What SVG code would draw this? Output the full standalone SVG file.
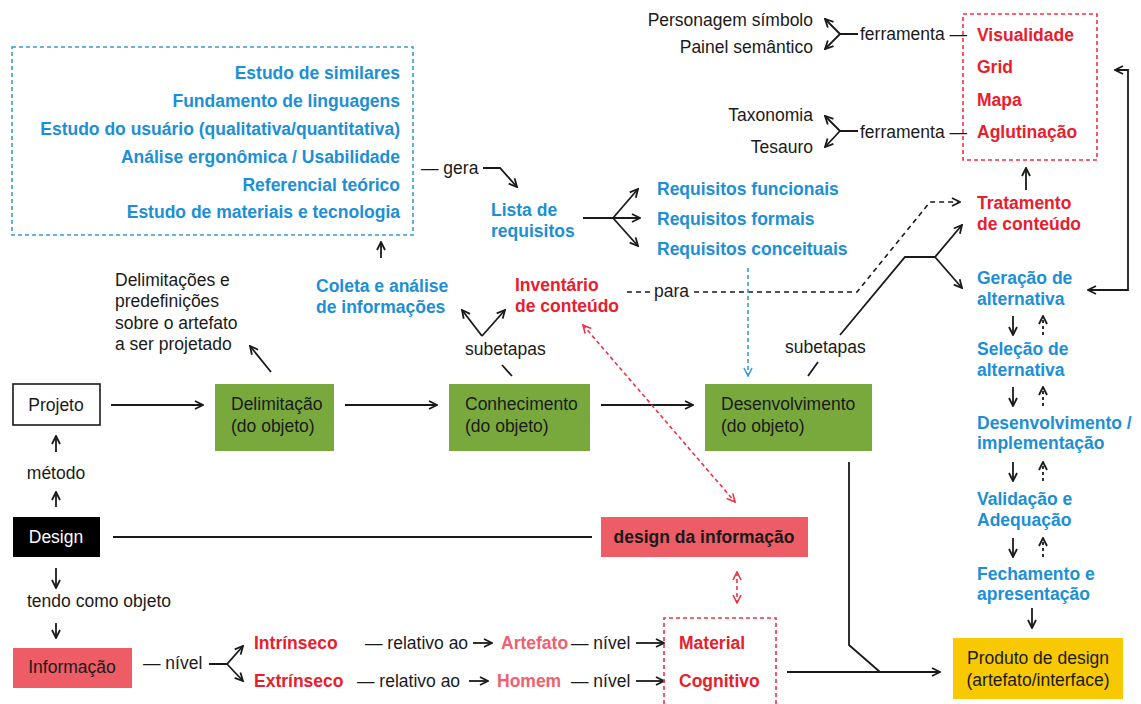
<svg xmlns="http://www.w3.org/2000/svg" width="1141" height="704" viewBox="0 0 1141 704">
<defs>
<style>
text{font-family:"Liberation Sans",Arial,sans-serif;font-size:17.5px;fill:#1a1a1a}
.b{font-weight:bold}
.blue{fill:#1c8fd6;font-weight:bold}
.red{fill:#e8202d;font-weight:bold}
.pink{fill:#f0606e;font-weight:bold}
.w{fill:#ffffff}
.mid{text-anchor:middle}
.end{text-anchor:end}
.ln{fill:none;stroke:#1a1a1a;stroke-width:1.8}
.dk{fill:none;stroke:#1a1a1a;stroke-width:1.6;stroke-dasharray:5 4}
.db{fill:none;stroke:#3a9ad8;stroke-width:1.6;stroke-dasharray:4 3}
.dr{fill:none;stroke:#ee3344;stroke-width:1.6;stroke-dasharray:4 3}
.dt{fill:none;stroke:#1a1a1a;stroke-width:1.8;stroke-dasharray:3 3}
.green{fill:#79a93d}
</style>
<marker id="ah" viewBox="0 0 10 10" refX="9" refY="5" markerWidth="10" markerHeight="10" markerUnits="userSpaceOnUse" orient="auto-start-reverse"><path d="M1,1 L9,5 L1,9" fill="none" stroke="#1a1a1a" stroke-width="1.8"/></marker>
<marker id="ahb" viewBox="0 0 10 10" refX="9" refY="5" markerWidth="10" markerHeight="10" markerUnits="userSpaceOnUse" orient="auto-start-reverse"><path d="M1,1 L9,5 L1,9" fill="none" stroke="#3a9ad8" stroke-width="1.6"/></marker>
<marker id="ahr" viewBox="0 0 10 10" refX="9" refY="5" markerWidth="10" markerHeight="10" markerUnits="userSpaceOnUse" orient="auto-start-reverse"><path d="M1,1 L9,5 L1,9" fill="none" stroke="#ee3344" stroke-width="1.6"/></marker>
</defs>
<rect width="1141" height="704" fill="#ffffff"/>

<g id="connectors">
<line class="ln" x1="111" y1="405" x2="203" y2="405" marker-end="url(#ah)"/>
<line class="ln" x1="345" y1="405" x2="437" y2="405" marker-end="url(#ah)"/>
<line class="ln" x1="601" y1="405" x2="693" y2="405" marker-end="url(#ah)"/>
<line class="ln" x1="271" y1="372" x2="250" y2="346" marker-end="url(#ah)"/>
<line class="ln" x1="381" y1="258" x2="381" y2="242" marker-end="url(#ah)"/>
<line class="ln" x1="502" y1="365" x2="512" y2="376"/>
<path class="ln" d="M482,336 L462,310" marker-end="url(#ah)"/>
<path class="ln" d="M482,336 L505,310" marker-end="url(#ah)"/>
<path class="ln" d="M483,168 L500,168 L517,187" marker-end="url(#ah)"/>
<path class="ln" d="M583,218 L613,218 L640,218" marker-end="url(#ah)"/>
<path class="ln" d="M613,218 L638,189" marker-end="url(#ah)"/>
<path class="ln" d="M613,218 L638,246" marker-end="url(#ah)"/>
<line class="dk" x1="627" y1="292" x2="650" y2="292"/>
<path class="dk" d="M694,292 L857,292 L930,202 L960,202" marker-end="url(#ah)"/>
<line class="db" x1="748" y1="268" x2="748" y2="376" marker-end="url(#ahb)"/>
<line class="ln" x1="808" y1="376" x2="818" y2="362"/>
<path class="ln" d="M840,335 L905,257 L935,257 L962,225" marker-end="url(#ah)"/>
<path class="ln" d="M935,257 L962,288" marker-end="url(#ah)"/>
<line class="ln" x1="1026" y1="190" x2="1026" y2="168" marker-end="url(#ah)"/>
<path class="ln" d="M1115,70 L1128,70 L1128,290 L1088,290" marker-start="url(#ah)" marker-end="url(#ah)"/>
<path class="ln" d="M858,34 L840,34 L825,19" marker-end="url(#ah)"/>
<path class="ln" d="M840,34 L825,49" marker-end="url(#ah)"/>
<path class="ln" d="M858,131 L840,131 L825,116" marker-end="url(#ah)"/>
<path class="ln" d="M840,131 L825,147" marker-end="url(#ah)"/>
<line class="ln" x1="56" y1="452" x2="56" y2="436" marker-end="url(#ah)"/>
<line class="ln" x1="56" y1="507" x2="56" y2="492" marker-end="url(#ah)"/>
<line class="ln" x1="56" y1="568" x2="56" y2="588" marker-end="url(#ah)"/>
<line class="ln" x1="56" y1="623" x2="56" y2="638" marker-end="url(#ah)"/>
<line class="ln" x1="113" y1="537" x2="592" y2="537"/>
<line class="dr" x1="583" y1="325" x2="735" y2="502" marker-start="url(#ahr)" marker-end="url(#ahr)"/>
<line class="dr" x1="737" y1="572" x2="737" y2="603" marker-start="url(#ahr)" marker-end="url(#ahr)"/>
<path class="ln" d="M209,664 L227,664 L243,646" marker-end="url(#ah)"/>
<path class="ln" d="M227,664 L243,681" marker-end="url(#ah)"/>
<line class="ln" x1="473" y1="643" x2="492" y2="643" marker-end="url(#ah)"/>
<line class="ln" x1="636" y1="643" x2="664" y2="643" marker-end="url(#ah)"/>
<line class="ln" x1="469" y1="681" x2="488" y2="681" marker-end="url(#ah)"/>
<line class="ln" x1="636" y1="681" x2="664" y2="681" marker-end="url(#ah)"/>
<path class="ln" d="M849,462 L849,645 L880,672"/>
<line class="ln" x1="787" y1="672" x2="940" y2="672" marker-end="url(#ah)"/>
<line class="ln" x1="1013" y1="316" x2="1013" y2="335" marker-end="url(#ah)"/>
<line class="dt" x1="1043" y1="335" x2="1043" y2="316" marker-end="url(#ah)"/>
<line class="ln" x1="1013" y1="387" x2="1013" y2="406" marker-end="url(#ah)"/>
<line class="dt" x1="1043" y1="406" x2="1043" y2="387" marker-end="url(#ah)"/>
<line class="ln" x1="1013" y1="462" x2="1013" y2="481" marker-end="url(#ah)"/>
<line class="dt" x1="1043" y1="481" x2="1043" y2="462" marker-end="url(#ah)"/>
<line class="ln" x1="1013" y1="538" x2="1013" y2="557" marker-end="url(#ah)"/>
<line class="dt" x1="1043" y1="557" x2="1043" y2="538" marker-end="url(#ah)"/>
<line class="ln" x1="1032" y1="608" x2="1032" y2="628" marker-end="url(#ah)"/>
</g>

<g id="pesquisa">
<rect class="db" x="12" y="47" width="401" height="188"/>
<text class="blue end" x="400" y="79">Estudo de similares</text>
<text class="blue end" x="400" y="107">Fundamento de linguagens</text>
<text class="blue end" x="400" y="135">Estudo do usuário (qualitativa/quantitativa)</text>
<text class="blue end" x="400" y="163">Análise ergonômica / Usabilidade</text>
<text class="blue end" x="400" y="191">Referencial teórico</text>
<text class="blue end" x="400" y="218">Estudo de materiais e tecnologia</text>
</g>
<g id="gera"><text x="421" y="174">— gera</text></g>
<g id="lista"><text class="blue" x="491" y="216">Lista de</text><text class="blue" x="491" y="237">requisitos</text></g>
<g id="requisitos">
<text class="blue" x="657" y="195">Requisitos funcionais</text>
<text class="blue" x="657" y="225">Requisitos formais</text>
<text class="blue" x="657" y="255">Requisitos conceituais</text>
</g>
<g id="ferramentas1">
<text class="end" x="813" y="26">Personagem símbolo</text>
<text class="end" x="813" y="53">Painel semântico</text>
<text x="860" y="40">ferramenta —</text>
</g>
<g id="ferramentas2">
<text class="end" x="813" y="121">Taxonomia</text>
<text class="end" x="813" y="153">Tesauro</text>
<text x="860" y="138">ferramenta —</text>
</g>
<g id="tecnicas">
<rect class="dr" x="963" y="14" width="134" height="146"/>
<text class="red" x="977" y="41">Visualidade</text>
<text class="red" x="977" y="73">Grid</text>
<text class="red" x="977" y="106">Mapa</text>
<text class="red" x="977" y="138">Aglutinação</text>
</g>
<g id="tratamento"><text class="red" x="977" y="209">Tratamento</text><text class="red" x="977" y="230">de conteúdo</text></g>
<g id="geracao"><text class="blue" x="977" y="284">Geração de</text><text class="blue" x="977" y="305">alternativa</text></g>
<g id="selecao"><text class="blue" x="977" y="355">Seleção de</text><text class="blue" x="977" y="376">alternativa</text></g>
<g id="implementacao"><text class="blue" x="977" y="429">Desenvolvimento /</text><text class="blue" x="977" y="449">implementação</text></g>
<g id="validacao"><text class="blue" x="977" y="505">Validação e</text><text class="blue" x="977" y="526">Adequação</text></g>
<g id="fechamento"><text class="blue" x="977" y="580">Fechamento e</text><text class="blue" x="977" y="600">apresentação</text></g>
<g id="delimitacoes">
<text x="115" y="286">Delimitações e</text>
<text x="115" y="307">predefinições</text>
<text x="115" y="329">sobre o artefato</text>
<text x="115" y="350">a ser projetado</text>
</g>
<g id="coleta"><text class="blue" x="316" y="292">Coleta e análise</text><text class="blue" x="316" y="313">de informações</text></g>
<g id="inventario"><text class="red" x="515" y="291">Inventário</text><text class="red" x="515" y="312">de conteúdo</text></g>
<g id="para"><text x="654" y="297">para</text></g>
<g id="subetapas1"><text x="465" y="355">subetapas</text></g>
<g id="subetapas2"><text x="785" y="353">subetapas</text></g>
<g id="projeto"><rect x="13" y="384" width="87" height="41" fill="#fff" stroke="#1a1a1a" stroke-width="1.6"/><text class="mid" x="56" y="411">Projeto</text></g>
<g id="delimitacao"><rect class="green" x="215" y="384" width="119" height="67"/><text x="231" y="410">Delimitação</text><text x="231" y="432">(do objeto)</text></g>
<g id="conhecimento"><rect class="green" x="449" y="384" width="141" height="67"/><text x="465" y="410">Conhecimento</text><text x="465" y="432">(do objeto)</text></g>
<g id="desenvolvimento"><rect class="green" x="705" y="384" width="167" height="67"/><text x="721" y="410">Desenvolvimento</text><text x="721" y="432">(do objeto)</text></g>
<g id="metodo"><text class="mid" x="56" y="479">método</text></g>
<g id="design"><rect x="13" y="517" width="87" height="40" fill="#000"/><text class="w mid" x="56" y="543">Design</text></g>
<g id="designinfo"><rect x="601" y="517" width="207" height="40" fill="#ee5c66"/><text class="b mid" x="704" y="543">design da informação</text></g>
<g id="tendo"><text x="27" y="607">tendo como objeto</text></g>
<g id="informacao"><rect x="13" y="648" width="119" height="40" fill="#ee5c66"/><text class="mid" x="72" y="673">Informação</text><text x="143" y="669">— nível</text></g>
<g id="intrinseco"><text class="red" x="254" y="649">Intrínseco</text><text x="365" y="649">— relativo ao</text><text class="pink" x="501" y="649">Artefato</text><text x="571" y="649">— nível</text></g>
<g id="extrinseco"><text class="red" x="254" y="687">Extrínseco</text><text x="357" y="687">— relativo ao</text><text class="pink" x="497" y="687">Homem</text><text x="571" y="687">— nível</text></g>
<g id="niveis"><path class="dr" d="M664,704 L664,618 L776,618 L776,704"/><text class="red" x="679" y="649">Material</text><text class="red" x="679" y="687">Cognitivo</text></g>
<g id="produto"><rect x="953" y="638" width="170" height="61" fill="#f8c800"/><text class="mid" x="1038" y="664">Produto de design</text><text class="mid" x="1038" y="686">(artefato/interface)</text></g>
</svg>
